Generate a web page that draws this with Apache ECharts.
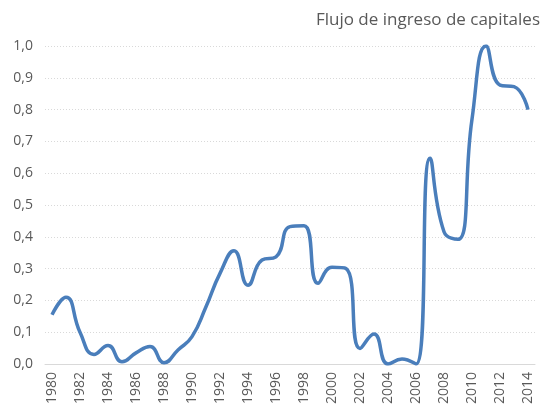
<!DOCTYPE html>
<html>
<head>
<meta charset="utf-8">
<script src="https://cdn.jsdelivr.net/npm/echarts@6/dist/echarts.min.js"></script>
<style>html,body{margin:0;padding:0;background:#fff;}#c{width:550px;height:411px;}</style>
</head>
<body>
<div id="c"></div>
<script>
const years = ['1980','1981','1982','1983','1984','1985','1986','1987','1988','1989','1990','1991','1992','1993','1994','1995','1996','1997','1998','1999','2000','2001','2002','2003','2004','2005','2006','2007','2008','2009','2010','2011','2012','2013','2014'];
const values = [0.155,0.21,0.10,0.03,0.058,0.007,0.035,0.055,0.004,0.044,0.086,0.18,0.285,0.356,0.248,0.327,0.337,0.432,0.435,0.254,0.304,0.30,0.049,0.094,0.0,0.016,0.0,0.647,0.416,0.392,0.77,1.0,0.877,0.872,0.80];
const title = 'Flujo de ingreso de capitales';

const chart = echarts.init(document.getElementById('c'));
chart.setOption({
  animation: false,
  title: {
    text: title, right: 5, top: 7,
    textStyle: {fontFamily: 'Open Sans', fontSize: 17, fontWeight: 'normal', color: '#595959'}
  },
  grid: {left: 45, right: 15, top: 46, bottom: 47, containLabel: false},
  xAxis: {
    type: 'category', data: years, boundaryGap: true,
    axisLine: {lineStyle: {color: '#d9d9d9'}},
    axisTick: {show: false},
    axisLabel: {rotate: 90, interval: 1, color: '#595959', fontFamily: 'Open Sans', fontSize: 14, margin: 8}
  },
  yAxis: {
    type: 'value', min: 0, max: 1, interval: 0.1,
    axisLine: {show: false}, axisTick: {show: false},
    axisLabel: {color: '#595959', fontFamily: 'Open Sans', fontSize: 14, margin: 12,
      formatter: v => v.toFixed(1).replace('.', ',')},
    splitLine: {lineStyle: {color: '#d9d9d9', type: [1, 2], width: 1}}
  },
  series: [{
    type: 'line', data: values, smooth: 0.5, symbol: 'none',
    lineStyle: {color: '#4a7ebb', width: 3.5}
  }]
});
</script>
</body>
</html>
